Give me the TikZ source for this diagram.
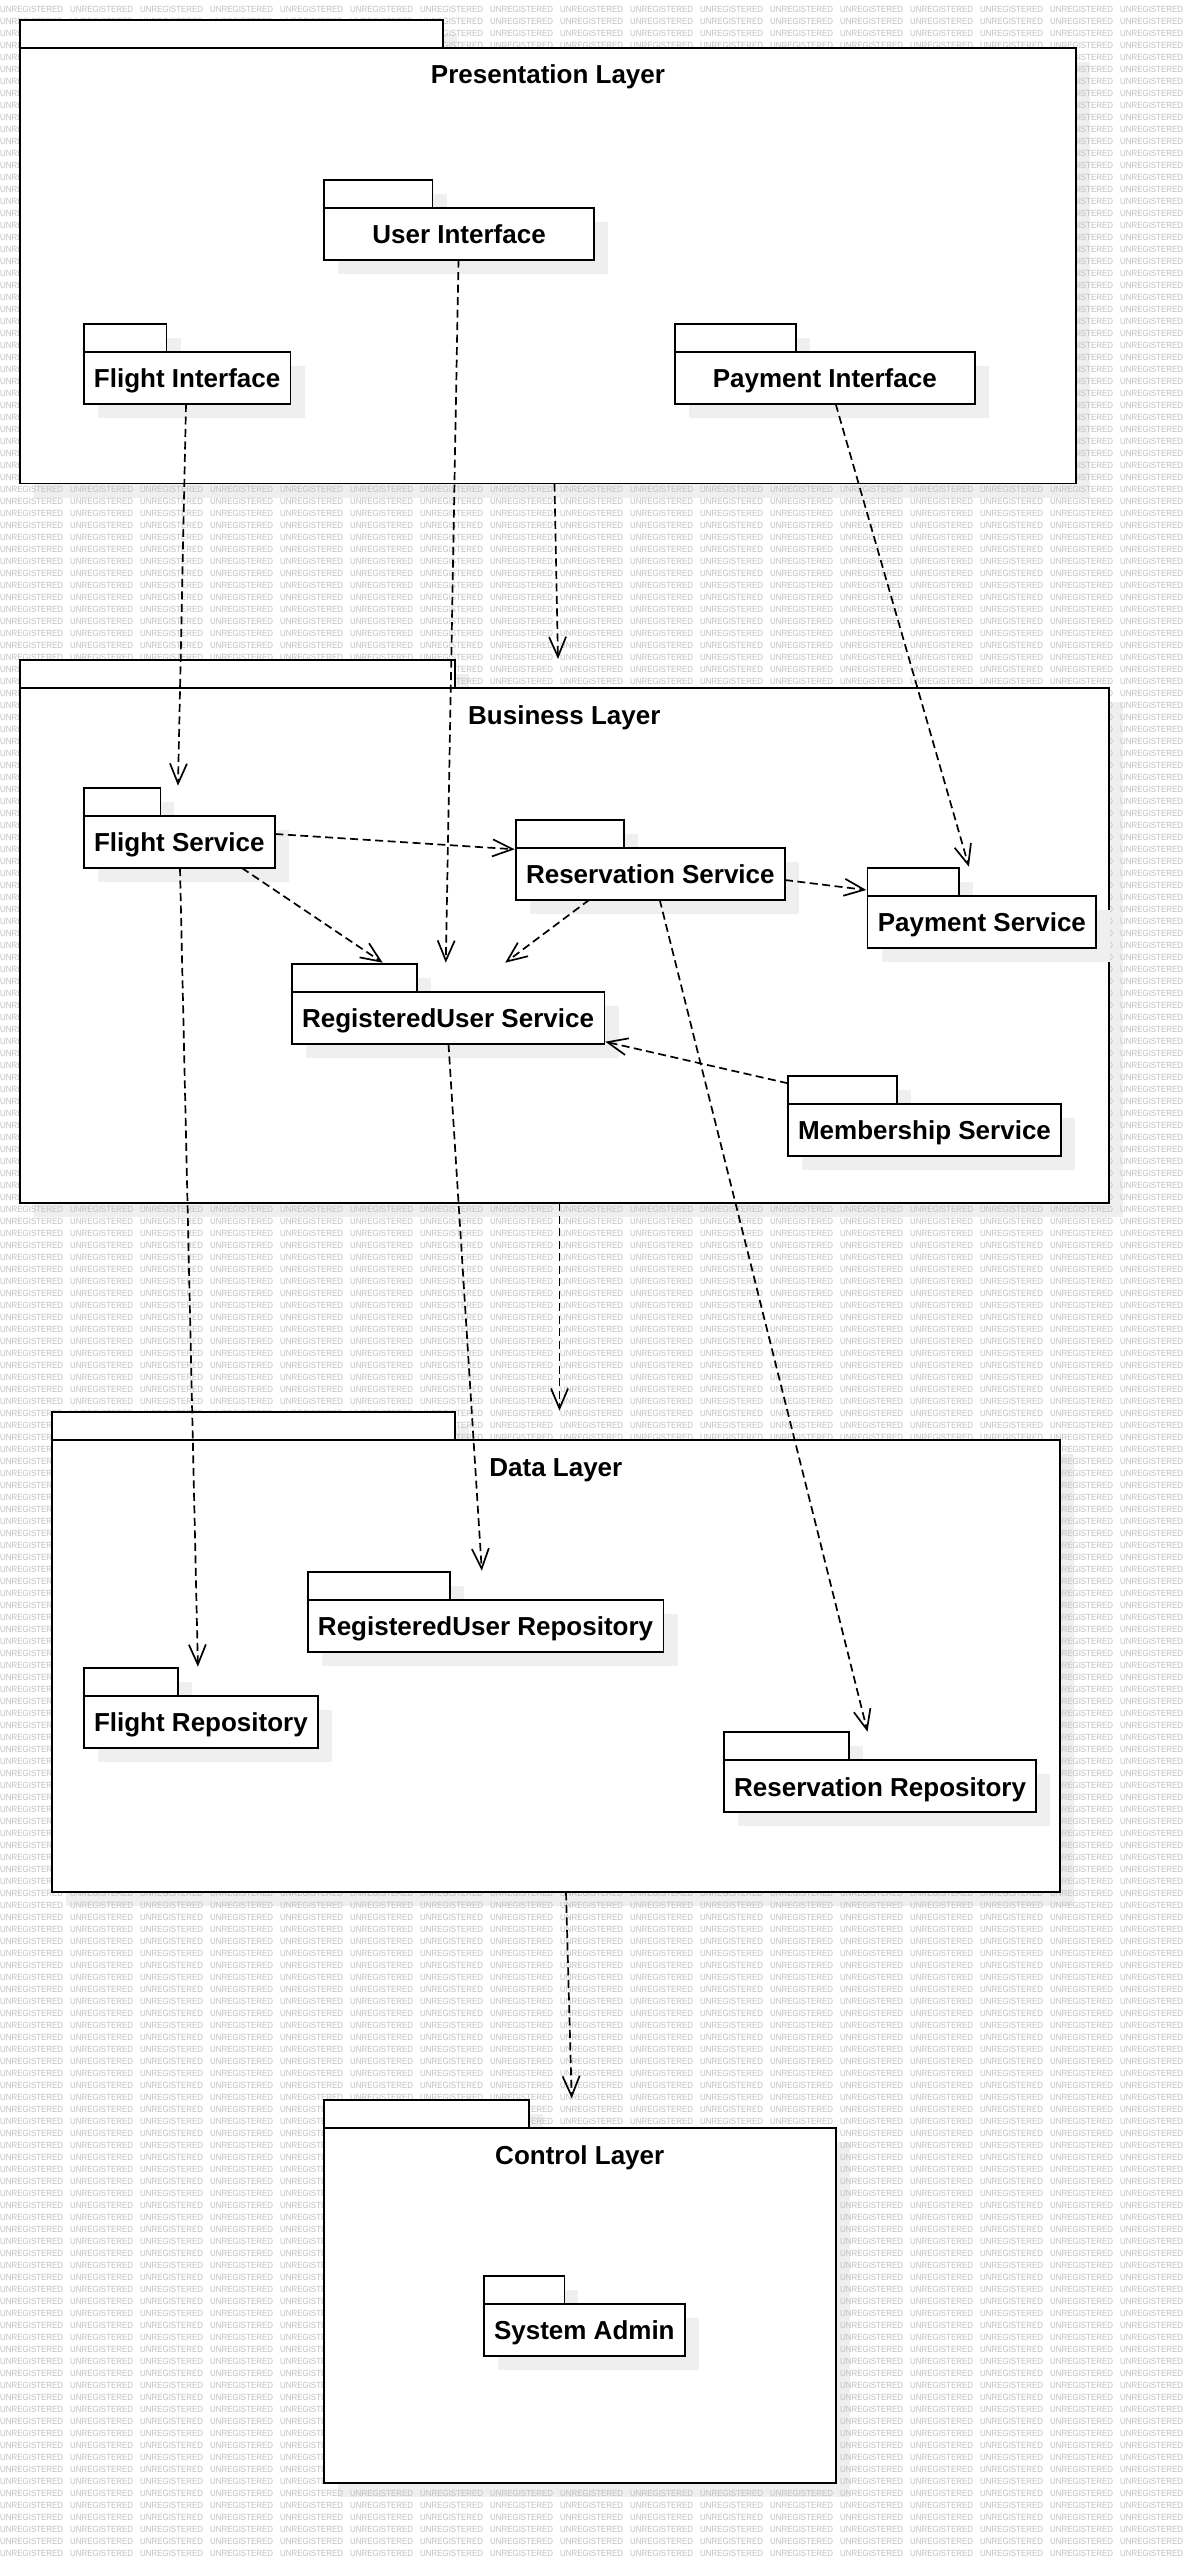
\documentclass[tikz,border=0pt]{standalone}
\usepackage{fontspec}
\setmainfont{Liberation Sans}
\newfontfamily\wmfont[FakeStretch=0.88]{Liberation Sans}
\usetikzlibrary{arrows.meta}
\definecolor{shadowc}{RGB}{239,239,239}
\definecolor{wmc}{RGB}{192,192,192}
\newcommand\labelfont{\fontsize{26}{26}\selectfont\bfseries}
\newcommand\wmword{\makebox[70pt][l]{UNREGISTERED}}
\newcommand\wmrow{\wmword\wmword\wmword\wmword\wmword\wmword\wmword\wmword\wmword\wmword\wmword\wmword\wmword\wmword\wmword\wmword\wmword}
\tikzset{
 pkgbody/.style={draw, fill=white, line width=1.8pt, inner sep=0pt, outer sep=0pt, anchor=north west, text height=20pt, text depth=0pt, font=\labelfont},
 layerbody/.style={draw, fill=white, line width=1.8pt, inner sep=0pt, outer sep=0pt, anchor=north west},
 pkgtab/.style={draw, fill=white, line width=1.8pt, inner sep=0pt, outer sep=0pt, anchor=south west, minimum height=28pt},
 layertitle/.style={anchor=base, font=\labelfont, inner sep=0pt},
 wmtext/.style={font=\wmfont\fontsize{9}{9}\selectfont, text=wmc, inner sep=0pt, anchor=base west},
 dep/.style={line width=1.7pt, dash pattern=on 8pt off 4.5pt, -{Straight Barb[length=20pt,width=17pt]}},
}
\newcommand\shadowpair[5]{%
  \fill[shadowc] ({#1+14},{#4+14}) rectangle ({#2+14},{#4+42});
  \fill[shadowc] ({#1+14},{#4+42}) rectangle ({#3+14},{#5+14});}
\newcommand\pkg[7]{%
  \shadowpair{#2}{#3}{#4}{#5}{#6}
  \node[pkgbody, minimum width={#4-#2}, minimum height={#6-#5-28}] (#1) at (#2,{#5+28}) {#7};
  \node[pkgtab, minimum width={#3-#2}] (#1-tab) at (#1.north west) {};}
\newcommand\layerframe[7]{%
  \node[layerbody, minimum width={#4-#2}, minimum height={#6-#5-28}] (#1) at (#2,{#5+28}) {};
  \node[pkgtab, minimum width={#3-#2}] (#1-tab) at (#1.north west) {};
  \node[layertitle] (#1-title) at ({(#2+#4)/2},{#5+64}) {#7};}
\begin{document}
\begin{tikzpicture}[x=1pt,y=-1pt]
\useasboundingbox (0,0) rectangle (1190,2564);
\fill[white] (0,0) rectangle (1190,2564);
% layer shadows
\shadowpair{20}{442.8}{1076}{20}{483.5}
\shadowpair{20}{454.6}{1108.6}{660}{1203.3}
\shadowpair{51.7}{454.7}{1060}{1412}{1892.3}
\shadowpair{323.7}{528.9}{835.8}{2100}{2483.3}
% watermark
\begin{scope}
\clip (0,0) rectangle (1190,2564);
\foreach \k in {0,...,212} {
  \node[wmtext] (wm\k) at (0,{12.2+12*\k}) {\wmrow};
}
\end{scope}
% layers
\layerframe{pl}{20}{442.8}{1076}{20}{483.5}{Presentation Layer}
\layerframe{bl}{20}{454.6}{1108.6}{660}{1203.3}{Business Layer}
\layerframe{dl}{51.7}{454.7}{1060}{1412}{1892.3}{Data Layer}
\layerframe{cl}{323.7}{528.9}{835.8}{2100}{2483.3}{Control Layer}
% packages
\pkg{ui}{323.8}{432.5}{594.3}{180}{259.7}{User Interface}
\pkg{fi}{83.8}{166.5}{290.5}{323.7}{404}{Flight Interface}
\pkg{pi}{675}{795.9}{974.6}{323.7}{404}{Payment Interface}
\pkg{fs}{83.8}{160.4}{274.8}{787.7}{868}{Flight Service}
\pkg{rs}{515.9}{623.7}{784.8}{820}{899.7}{Reservation Service}
\pkg{ps}{867.5}{959.3}{1096.3}{868}{947.7}{Payment Service}
\pkg{rus}{291.6}{416.8}{604.5}{963.7}{1044}{RegisteredUser Service}
\pkg{ms}{787.9}{897.3}{1061.1}{1075.7}{1156}{Membership Service}
\pkg{rur}{307.7}{450}{663.5}{1572}{1651.7}{RegisteredUser Repository}
\pkg{fr}{83.8}{177.6}{318}{1667.7}{1747.7}{Flight Repository}
\pkg{rr}{724}{848.7}{1036.2}{1732}{1812}{Reservation Repository}
\pkg{sa}{483.7}{564.4}{685}{2275.7}{2356}{System Admin}
% dependencies
\draw[dep] ([shift={(534.5,463.5)}]pl-tab.north west) -- ([shift={(538,-1)}]bl-tab.north west);
\draw[dep] ([shift={(134.7,79.7)}]ui-tab.north west) -- ([shift={(154.2,-1)}]rus-tab.north west);
\draw[dep] ([shift={(102.2,80.3)}]fi-tab.north west) -- ([shift={(94.2,-2)}]fs-tab.north west);
\draw[dep] ([shift={(160.7,80.3)}]pi-tab.north west) -- ([shift={(101.4,-1.3)}]ps-tab.north west);
\draw[dep] ([shift={(191.5,46.3)}]fs-tab.north west) -- ([shift={(-1.2,29.3)}]rs-tab.north west);
\draw[dep] ([shift={(158.1,80.3)}]fs-tab.north west) -- ([shift={(91.1,-1)}]rus-tab.north west);
\draw[dep] ([shift={(73.5,79.7)}]rs-tab.north west) -- ([shift={(213.6,-1)}]rus-tab.north west);
\draw[dep] ([shift={(269,60)}]rs-tab.north west) -- ([shift={(-1.2,22)}]ps-tab.north west);
\draw[dep] ([shift={(0,7.6)}]ms-tab.north west) -- ([shift={(313.7,78)}]rus-tab.north west);
\draw[dep] ([shift={(96.2,80.3)}]fs-tab.north west) -- ([shift={(114.1,-1)}]fr-tab.north west);
\draw[dep] ([shift={(156.9,80.3)}]rus-tab.north west) -- ([shift={(174.1,-1.3)}]rur-tab.north west);
\draw[dep] ([shift={(143.8,79.7)}]rs-tab.north west) -- ([shift={(143.5,-0.3)}]rr-tab.north west);
\draw[dep] ([shift={(539.5,543.3)}]bl-tab.north west) -- ([shift={(507.8,-1.3)}]dl-tab.north west);
\draw[dep] ([shift={(514.3,480.3)}]dl-tab.north west) -- ([shift={(248,-1.7)}]cl-tab.north west);
\end{tikzpicture}
\end{document}
